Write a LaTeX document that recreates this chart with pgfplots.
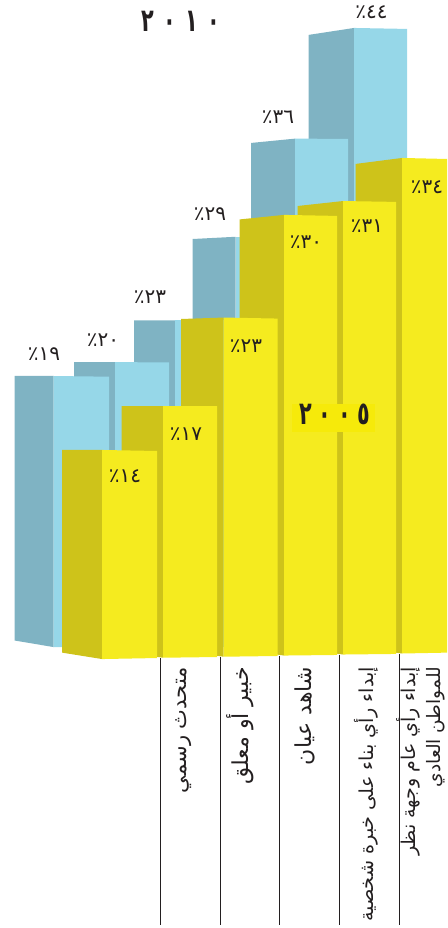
\documentclass[border=0pt]{standalone}
\usepackage{fontspec}
\usepackage{pgfplots}
\pgfplotsset{compat=1.18}
\TeXXeTstate=1
\newfontfamily\arabicfont[Script=Arabic]{DejaVu Sans}
\definecolor{bluefront}{HTML}{96D7E8}
\definecolor{blueside}{HTML}{7FB3C3}
\definecolor{yelfront}{HTML}{F5EB1F}
\definecolor{yelside}{HTML}{CEC31A}
\definecolor{yelbox}{HTML}{F6EA0A}
\definecolor{ink}{HTML}{231F20}
\pgfplotsset{
  layer/.style={
    scale only axis, width=447pt, height=928pt,
    xmin=0, xmax=447, hide axis, clip=false,
  },
  bf/.style={fill=bluefront, draw=none},
  bs/.style={fill=blueside, draw=none},
  yf/.style={fill=yelfront, draw=none},
  ys/.style={fill=yelside, draw=none},
}
% percent label: digits, then the sign on their left
\newcommand{\pct}[1]{{\arabicfont\fontsize{20}{20}\selectfont\color{ink}\beginR\beginL#1\endL٪\endR}}
\newcommand{\catfont}[1]{\arabicfont\fontsize{#1}{#1}\selectfont\color{ink}}
\newcommand{\bigyear}[1]{\scalebox{0.65}[1]{\arabicfont\bfseries\fontsize{32}{32}\selectfont\color{ink}\beginL#1\endL}}
\begin{document}
\begin{tikzpicture}
\useasboundingbox (0,0) rectangle (447pt,928pt);
% --- 2010 bars, y in percent, tallest at the back ---
\begin{axis}[layer, ymin=-20.65, ymax=46.01]
  \addplot[bs] coordinates {(308.5,43.5) (354,44) (354,-0.47) (308.5,0)} --cycle;
  \addplot[bf] coordinates {(354,44) (407,43.93) (407,-0.47) (354,-0.47)} --cycle;
  \addplot[bs] coordinates {(251,35.74) (295,36.05) (295,-0.47) (251,0)} --cycle;
  \addplot[bf] coordinates {(295,36.05) (348,36.03) (348,-0.47) (295,-0.47)} --cycle;
  \addplot[bs] coordinates {(192.5,28.84) (235.5,29) (235.5,-0.47) (192.5,0)} --cycle;
  \addplot[bf] coordinates {(235.5,29) (289,29) (289,-0.47) (235.5,-0.47)} --cycle;
  \addplot[bs] coordinates {(134,23) (175,23) (175,-0.47) (134,0)} --cycle;
  \addplot[bf] coordinates {(175,23) (229,23) (229,-0.47) (175,-0.47)} --cycle;
  \addplot[bs] coordinates {(74,20) (115,20) (115,-0.47) (74,0)} --cycle;
  \addplot[bf] coordinates {(115,20) (169,19.97) (169,-0.47) (115,-0.47)} --cycle;
  \addplot[bs] coordinates {(14.5,19) (53.5,19) (53.5,-0.47) (14.5,0)} --cycle;
  \addplot[bf] coordinates {(53.5,19) (109,18.95) (109,-0.47) (53.5,-0.47)} --cycle;
\end{axis}
% --- 2005 bars ---
\begin{axis}[layer, ymin=-18.74, ymax=44.82]
  \addplot[ys] coordinates {(355.5,33.59) (402,34) (402,0.06) (355.5,0.49)} --cycle;
  \addplot[yf] coordinates {(402,34) (447,33.93) (447,0.12) (402,0.06)} --cycle;
  \addplot[ys] coordinates {(297.5,30.71) (343,31.05) (343,-0.01) (297.5,0.42)} --cycle;
  \addplot[yf] coordinates {(343,31.05) (396,30.99) (396,0.03) (343,-0.01)} --cycle;
  \addplot[ys] coordinates {(239.5,29.79) (284,30.1) (284,-0.08) (239.5,0.35)} --cycle;
  \addplot[yf] coordinates {(284,30.1) (337,30.03) (337,-0.04) (284,-0.08)} --cycle;
  \addplot[ys] coordinates {(181,22.97) (223.5,23.07) (223.5,-0.16) (181,0.27)} --cycle;
  \addplot[yf] coordinates {(223.5,23.07) (277.5,23) (277.5,-0.11) (223.5,-0.16)} --cycle;
  \addplot[ys] coordinates {(121.5,17) (163,17) (163,-0.23) (121.5,0.2)} --cycle;
  \addplot[yf] coordinates {(163,17) (217,17) (217,-0.18) (163,-0.23)} --cycle;
  \addplot[ys] coordinates {(62,14) (102,14) (102,-0.32) (62,0.12)} --cycle;
  \addplot[yf] coordinates {(102,14) (157,13.93) (157,-0.25) (102,-0.32)} --cycle;
  % patch behind the 2005 caption
  \addplot[fill=yelbox, draw=none] coordinates {(292,17.15) (375,17.15) (375,15.23) (292,15.23)} --cycle;
\end{axis}
% --- rules and text, in picture coordinates ---
\begin{axis}[layer, ymin=0, ymax=928, y dir=reverse]
  \addplot[ink, line width=1pt] coordinates {(160.3,658) (160.3,925)};
  \addplot[ink, line width=1pt] coordinates {(220.3,657) (220.3,925)};
  \addplot[ink, line width=1pt] coordinates {(279.7,656) (279.7,925)};
  \addplot[ink, line width=1pt] coordinates {(339.7,655) (339.7,925)};
  \addplot[ink, line width=1pt] coordinates {(399.3,654) (399.3,925)};

  \node at (axis cs:181,21) {\bigyear{٢\hspace{14pt}٠\hspace{14pt}١\hspace{14pt}٠}};
  \node at (axis cs:335,414) {\bigyear{٢\hspace{10.5pt}٠\hspace{10.5pt}٠\hspace{10.5pt}٥}};

  \node at (axis cs:371.5,12) {\pct{٤٤}};
  \node at (axis cs:278,117) {\pct{٣٦}};
  \node at (axis cs:210,214) {\pct{٢٩}};
  \node at (axis cs:150,297) {\pct{٢٣}};
  \node at (axis cs:103,340) {\pct{٢٠}};
  \node at (axis cs:44,354) {\pct{١٩}};
  \node at (axis cs:125,476) {\pct{١٤}};
  \node at (axis cs:186,434) {\pct{١٧}};
  \node at (axis cs:246,346) {\pct{٢٣}};
  \node at (axis cs:306,242) {\pct{٣٠}};
  \node at (axis cs:367,226) {\pct{٣١}};
  \node at (axis cs:427,187) {\pct{٣٤}};

  \node[rotate=90, anchor=east, inner sep=0pt] at (axis cs:184,667) {\catfont{21}\beginR متحدث رسمي\endR};
  \node[rotate=90, anchor=east, inner sep=0pt] at (axis cs:240,667) {\catfont{22}\beginR خبير أو معلق\endR};
  \node[rotate=90, anchor=east, inner sep=0pt] at (axis cs:305,667) {\catfont{22}\beginR شاهد عيان\endR};
  \node[rotate=90, anchor=east, inner sep=0pt] at (axis cs:366,667) {\catfont{19.2}\beginR إبداء رأي بناء على خبرة شخصية\endR};
  \node[rotate=90, anchor=east, inner sep=0pt] at (axis cs:408,667) {\catfont{19}\beginR إبداء رأي عام وجهة نظر\endR};
  \node[rotate=90, anchor=east, inner sep=0pt] at (axis cs:436,667) {\catfont{18.5}\beginR للمواطن العادي\endR};
\end{axis}
\end{tikzpicture}
\end{document}
